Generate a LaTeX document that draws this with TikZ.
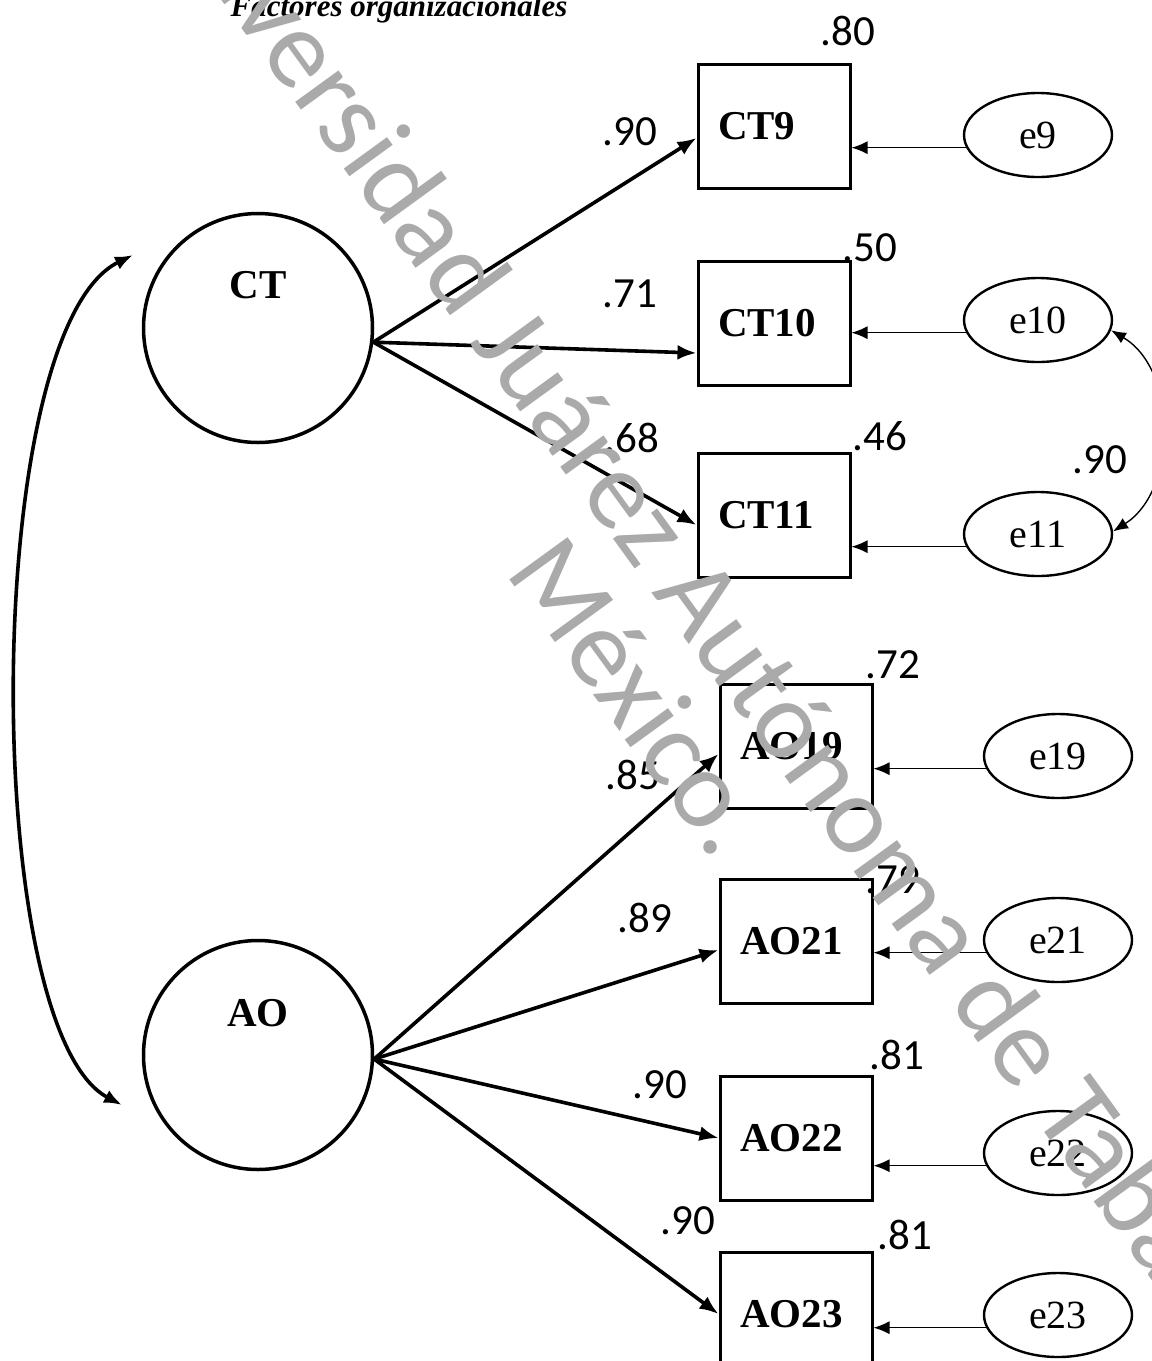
\documentclass[tikz,border=0pt]{standalone}
\usepackage{fontspec}
\setmainfont{Liberation Serif}
\newfontfamily\numfont{Carlito}
\usetikzlibrary{arrows.meta,shapes.geometric,calc}
\definecolor{wmgray}{RGB}{170,170,170}
\tikzset{
  latent/.style={circle, draw, line width=3.5pt, minimum size=229pt, inner sep=0pt},
  latlab/.style={font=\fontsize{41}{48}\selectfont\bfseries, inner sep=0pt},
  obsbox/.style={rectangle, draw, line width=3pt, text width=112pt, inner xsep=20pt,
    inner ysep=0pt, minimum height=124pt, align=left, font=\fontsize{41}{48}\selectfont\bfseries},
  errell/.style={ellipse, draw, line width=2.4pt, minimum width=148pt, minimum height=84pt,
    inner sep=0pt, font=\fontsize{40}{48}\selectfont},
  load/.style={line width=3.6pt, -{Latex[length=19pt,width=15pt]}},
  errarrow/.style={line width=1.4pt, -{Latex[length=16pt,width=13pt]}},
  covthin/.style={line width=1.4pt, {Latex[length=15pt,width=12pt]}-{Latex[length=15pt,width=12pt]}},
  covthick/.style={line width=3.6pt, {Latex[length=18pt,width=14pt]}-{Latex[length=18pt,width=14pt]}},
  coef/.style={font=\numfont\fontsize{43}{50}\selectfont, inner sep=0pt},
  wmark/.style={font=\numfont\fontsize{112}{130}\selectfont, text=wmgray, inner sep=0pt},
}
\begin{document}
\begin{tikzpicture}[x=1pt,y=-1pt]
\useasboundingbox (0,0) rectangle (1152,1361);
\clip (0,0) rectangle (1152,1361);
\fill[white] (0,0) rectangle (1152,1361);

% title
\node[font=\fontsize{31}{36}\selectfont\bfseries\itshape, anchor=base, inner sep=0pt] (title) at (399,16) {Factores organizacionales};

% latent variables
\node[latent] (CT) at (258,328) {};
\node[latlab] (CTlab) at (258,285) {CT};
\node[latent] (AO) at (258,1055) {};
\node[latlab] (AOlab) at (258,1013) {AO};

% observed
\node[obsbox] (CT9)  at (774,126) {CT9};
\node[obsbox] (CT10) at (774,323) {CT10};
\node[obsbox] (CT11) at (774,515) {CT11};
\node[obsbox] (AO19) at (796,746) {AO19};
\node[obsbox] (AO21) at (796,941) {AO21};
\node[obsbox] (AO22) at (796,1138) {AO22};
\node[obsbox] (AO23) at (796,1314) {AO23};

% errors
\node[errell] (e9)  at (1038,135) {e9};
\node[errell] (e10) at (1038,320) {e10};
\node[errell] (e11) at (1038,534) {e11};
\node[errell] (e19) at (1058,756) {e19};
\node[errell] (e21) at (1058,940) {e21};
\node[errell] (e22) at (1058,1153) {e22};
\node[errell] (e23) at (1058,1315) {e23};

% loadings
\draw[load] (CT.-7) -- ($(CT9.west)+(0,12)$);
\draw[load] (CT.-7) -- ($(CT10.west)+(0,30)$);
\draw[load] (CT.-7) -- ($(CT11.west)+(0,10)$);
\draw[load] (AO.-2) -- ($(AO19.west)+(0,8)$);
\draw[load] (AO.-2) -- ($(AO21.west)+(0,9)$);
\draw[load] (AO.-2) -- (AO22.west);
\draw[load] (AO.-2) -- (AO23.west);

% error arrows
\foreach \e/\b in {e9/CT9,e10/CT10,e11/CT11,e19/AO19,e21/AO21,e22/AO22,e23/AO23}
  \draw[errarrow] (\e.190) -- (\e.190 -| \b.east);

% covariances
\coordinate (covtop) at (133,255);
\coordinate (covbot) at (122,1105);
\draw[covthick] (covtop) .. controls (-20,330) and (-20,1030) .. (covbot);
\draw[covthin] (e10.-8) .. controls (1178,370) and (1178,490) .. (e11.2);

% coefficients
\node[coef] (r9)  at (848,31) {.80};
\node[coef] (l9)  at (630,132) {.90};
\node[coef] (l10) at (630,294) {.71};
\node[coef] (r10) at (870,248) {.50};
\node[coef] (l11) at (632,438) {.68};
\node[coef] (r11) at (880,436) {.46};
\node[coef] (c1011) at (1100,460) {.90};
\node[coef] (r19) at (893,665) {.72};
\node[coef] (l19) at (633,775) {.85};
\node[coef] (r21) at (893,880) {.79};
\node[coef] (l21) at (645,918) {.89};
\node[coef] (r22) at (897,1055) {.81};
\node[coef] (l22) at (660,1085) {.90};
\node[coef] (l23) at (688,1221) {.90};
\node[coef] (r23) at (905,1235) {.81};

% watermark
\node[wmark, rotate=-54] (wm1) at (730,635) {Universidad Juárez Autónoma de Tabasco.};
\node[wmark, rotate=-54] (wm2) at (640,695) {México.};
\end{tikzpicture}
\end{document}
